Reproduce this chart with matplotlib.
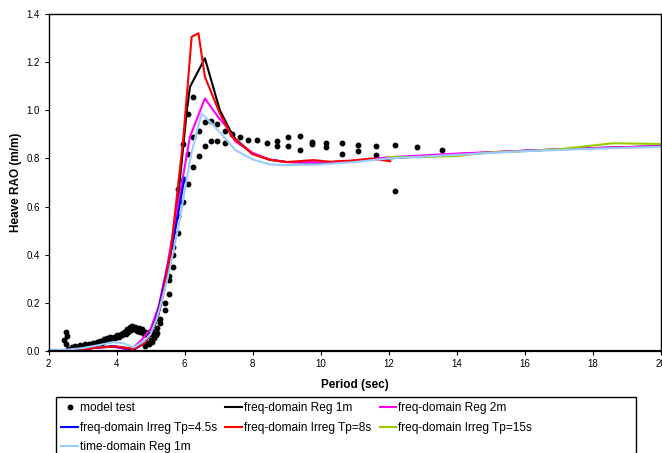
import matplotlib
matplotlib.use("Agg")
import matplotlib.pyplot as plt
from matplotlib import font_manager
from matplotlib.patches import Rectangle

plt.rcParams['font.family'] = ['Liberation Sans', 'DejaVu Sans']

# ---- data ----
model_x = [2.46, 2.50, 2.51, 2.55, 2.58, 2.63, 2.68, 2.72, 2.78, 2.82, 2.86, 2.90, 2.94, 2.98,
           3.02, 3.06, 3.10, 3.14, 3.18, 3.22, 3.27, 3.32, 3.37, 3.42, 3.47, 3.52, 3.57, 3.62,
           3.67, 3.72, 3.77, 3.82, 3.87, 3.92, 3.97, 4.02, 4.07, 4.12, 4.17, 4.22, 4.27, 4.31,
           4.35, 4.39, 4.43, 4.47, 4.51, 4.55, 4.60, 4.65, 4.70, 4.75, 4.80, 4.85, 4.90, 4.95,
           5.00, 5.05, 5.10, 4.85, 4.90, 4.95, 5.00, 5.05, 5.10, 5.15, 5.19, 5.20, 5.29, 5.29,
           5.43, 5.43, 5.54, 5.54, 5.54, 5.67, 5.67, 5.67, 5.80, 5.80, 5.80, 5.95, 5.95, 5.95,
           6.10, 6.10, 6.10, 6.25, 6.25, 6.25, 6.42, 6.42, 6.59, 6.59, 6.77, 6.77, 6.97, 6.97,
           7.19, 7.19, 7.39, 7.62, 7.87, 8.13, 8.42, 8.72, 8.72, 9.03, 9.03, 9.39, 9.39, 9.76,
           9.76, 10.17, 10.17, 10.62, 10.62, 11.10, 11.10, 11.62, 11.62, 12.20, 12.20, 12.85, 13.57]
model_y = [0.044, 0.031, 0.079, 0.062, 0.010, 0.005, 0.015, 0.008, 0.020, 0.012, 0.005, 0.018, 0.025, 0.012,
           0.020, 0.028, 0.015, 0.022, 0.030, 0.020, 0.028, 0.035, 0.025, 0.038, 0.030, 0.042, 0.035, 0.048,
           0.040, 0.052, 0.045, 0.058, 0.050, 0.060, 0.055, 0.065, 0.058, 0.072, 0.065, 0.080, 0.072, 0.090,
           0.080, 0.098, 0.088, 0.105, 0.092, 0.100, 0.085, 0.095, 0.080, 0.090, 0.070, 0.078, 0.065, 0.080,
           0.070, 0.082, 0.072, 0.022, 0.032, 0.028, 0.045, 0.038, 0.055, 0.065, 0.075, 0.094, 0.116, 0.134,
           0.170, 0.200, 0.238, 0.294, 0.310, 0.348, 0.400, 0.432, 0.492, 0.560, 0.675, 0.620, 0.712, 0.859,
           0.695, 0.818, 0.984, 0.765, 0.890, 1.056, 0.810, 0.915, 0.852, 0.951, 0.873, 0.956, 0.873, 0.943,
           0.864, 0.913, 0.900, 0.891, 0.876, 0.876, 0.864, 0.852, 0.873, 0.852, 0.887, 0.837, 0.894, 0.858,
           0.868, 0.846, 0.864, 0.820, 0.864, 0.832, 0.855, 0.815, 0.851, 0.665, 0.855, 0.846, 0.837]

reg1_x = [2.0, 2.5, 3.0, 3.5, 3.9, 4.2, 4.5, 4.8, 5.0, 5.2, 5.4, 5.6, 5.8, 6.06, 6.16, 6.6, 7.04,
          7.34, 7.5, 8.0, 8.5, 9.0, 10.0, 11.0, 12.0, 14.0, 16.0, 18.0, 20.0]
reg1_y = [0.0, 0.002, 0.008, 0.015, 0.02, 0.015, 0.008, 0.03, 0.07, 0.13, 0.25, 0.42, 0.62, 0.987, 1.097,
          1.216, 1.0, 0.917, 0.88, 0.82, 0.795, 0.785, 0.782, 0.79, 0.80, 0.818, 0.832, 0.843, 0.851]

reg2_x = [2.0, 2.5, 3.0, 3.5, 3.9, 4.2, 4.4, 4.7, 5.0, 5.25, 5.5, 5.8, 6.0, 6.16, 6.6, 7.0, 7.24,
          7.5, 8.0, 8.5, 9.0, 10.0, 11.0, 12.0, 14.0, 16.0, 18.0, 20.0]
reg2_y = [0.0, 0.002, 0.008, 0.015, 0.018, 0.01, 0.003, 0.04, 0.09, 0.19, 0.36, 0.6, 0.76, 0.89, 1.049,
          0.97, 0.93, 0.87, 0.823, 0.795, 0.785, 0.783, 0.79, 0.805, 0.82, 0.832, 0.843, 0.851]

irr45_x = [2.0, 2.5, 3.0, 3.5, 3.9, 4.2, 4.5, 4.8, 5.0, 5.2, 5.45, 5.7, 6.0]
irr45_y = [0.0, 0.002, 0.008, 0.015, 0.018, 0.013, 0.005, 0.03, 0.075, 0.15, 0.31, 0.48, 0.72]

irr8_x = [2.0, 3.0, 3.5, 4.0, 4.5, 4.8, 5.0, 5.2, 5.4, 5.6, 5.96, 6.21, 6.41, 6.6, 7.04, 7.4,
          8.0, 8.5, 9.0, 9.8, 10.3, 11.0, 11.5, 12.05]
irr8_y = [0.0, 0.008, 0.015, 0.018, 0.008, 0.03, 0.07, 0.14, 0.26, 0.42, 0.876, 1.305, 1.32, 1.139,
          0.987, 0.89, 0.818, 0.795, 0.785, 0.793, 0.786, 0.792, 0.80, 0.788]

irr15_x = [12.0, 13.0, 14.0, 15.0, 16.0, 17.0, 18.6, 20.0]
irr15_y = [0.806, 0.806, 0.81, 0.825, 0.83, 0.838, 0.863, 0.86]

time_x = [2.0, 2.5, 3.0, 3.5, 3.9, 4.2, 4.5, 4.8, 5.0, 5.2, 5.5, 5.8, 6.0, 6.2, 6.5, 6.9, 7.5,
          8.0, 8.5, 9.0, 10.0, 11.0, 12.0, 14.0, 16.0, 18.0, 20.0]
time_y = [0.005, 0.005, 0.012, 0.025, 0.037, 0.032, 0.015, 0.04, 0.07, 0.14, 0.3, 0.5, 0.66, 0.82,
          0.987, 0.93, 0.834, 0.796, 0.775, 0.772, 0.775, 0.785, 0.80, 0.815, 0.83, 0.84, 0.848]

x_ticks = [2, 4, 6, 8, 10, 12, 14, 16, 18, 20]
y_ticks = [0.0, 0.2, 0.4, 0.6, 0.8, 1.0, 1.2, 1.4]

labels = ["model test", "freq-domain Reg 1m", "freq-domain Reg 2m",
          "freq-domain Irreg Tp=4.5s", "freq-domain Irreg Tp=8s",
          "freq-domain Irreg Tp=15s", "time-domain Reg 1m"]

# narrow font for legend if available
names = {f.name for f in font_manager.fontManager.ttflist}
has_narrow = 'Liberation Sans Narrow' in names
leg_family = ['Liberation Sans Narrow', 'Liberation Sans'] if has_narrow else ['Liberation Sans']
leg_size = 10 if has_narrow else 8.6

# ---- figure ----
fig = plt.figure(figsize=(6.62, 4.53), dpi=100)
ax = fig.add_axes([48.5 / 662, 102 / 453, 612 / 662, 337 / 453])

lw = 1.5
h0, = ax.plot(model_x, model_y, linestyle='none', marker='o', markersize=3.2,
              color='black', label=labels[0])
h1, = ax.plot(reg1_x, reg1_y, color='black', lw=lw, label=labels[1])
h2, = ax.plot(reg2_x, reg2_y, color='#ff00ff', lw=lw, label=labels[2])
h3, = ax.plot(irr45_x, irr45_y, color='#0000ff', lw=lw, label=labels[3])
h4, = ax.plot(irr8_x, irr8_y, color='#ff0000', lw=lw, label=labels[4])
h5, = ax.plot(irr15_x, irr15_y, color='#99cc00', lw=lw, label=labels[5])
h6, = ax.plot(time_x, time_y, color='#99ccff', lw=lw, label=labels[6])

ax.set_xlim(2, 20)
ax.set_ylim(0, 1.4)
ax.set_xticks(x_ticks)
ax.set_xticklabels([str(t) for t in x_ticks])
ax.set_yticks(y_ticks)
ax.set_yticklabels([f"{t:.1f}" for t in y_ticks])
ax.tick_params(direction='out', length=3, width=0.8, labelsize=7, pad=3)
for side in ['left', 'top', 'right']:
    ax.spines[side].set_linewidth(1.0)
ax.spines['bottom'].set_linewidth(1.6)

ax.set_xlabel("Period (sec)", fontsize=8.5, fontweight='bold', labelpad=7)
ax.set_ylabel("Heave RAO (m/m)", fontsize=8.5, fontweight='bold', labelpad=3)

order = [h0, h3, h6, h1, h4, h2, h5]
leg = fig.legend(handles=order, labels=[h.get_label() for h in order],
                 loc='upper left', bbox_to_anchor=(56 / 662, 1 - 397 / 453),
                 ncol=3, prop={'family': leg_family, 'size': leg_size},
                 frameon=False, handlelength=1.4, handletextpad=0.15,
                 columnspacing=0.7, borderpad=0.45, labelspacing=0.62,
                 borderaxespad=0)

# Excel-style legend box, wider than its contents
fig.add_artist(Rectangle((56 / 662, -0.05), 580 / 662, 1.05 - 397 / 453,
                         transform=fig.transFigure, fill=False,
                         edgecolor='black', linewidth=1.0))

fig.savefig("out.png", dpi=100)
